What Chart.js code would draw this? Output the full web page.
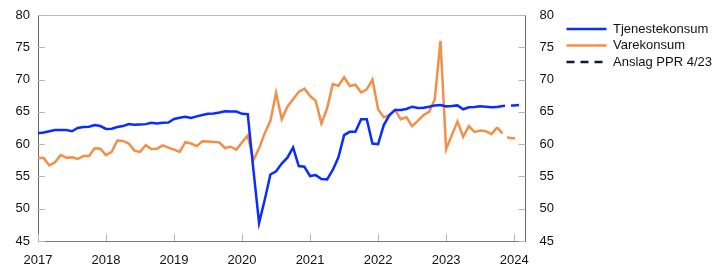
<!DOCTYPE html>
<html>
<head>
<meta charset="utf-8">
<script src="https://cdn.jsdelivr.net/npm/chart.js@4"></script>
<style>
  html, body { margin: 0; padding: 0; background: #fff; }
  #wrap { width: 722px; height: 278px; }
</style>
</head>
<body>
<div id="wrap"><canvas id="konsumChart"></canvas></div>
<script>
// måneder jan 2017 - mar 2024
const months = [];
for (let yr = 2017; yr <= 2024; yr++) {
  for (let mo = 1; mo <= 12; mo++) {
    if (yr === 2024 && mo > 3) break;
    months.push(yr + '-' + String(mo).padStart(2, '0'));
  }
}

const tjenestekonsum = [
  61.7, 61.8, 62.0, 62.2, 62.2, 62.2, 62.0, 62.5, 62.65, 62.7, 62.95, 62.8,
  62.35, 62.4, 62.65, 62.8, 63.1, 63.0, 63.05, 63.1, 63.3, 63.2, 63.3, 63.35,
  63.9, 64.1, 64.25, 64.05, 64.3, 64.5, 64.7, 64.75, 64.9, 65.1, 65.05, 65.05,
  64.7, 64.65, 56.0, 47.8, 51.4, 55.3, 55.8, 57.0, 57.9, 59.5, 56.6, 56.5,
  55.05, 55.2, 54.6, 54.55, 56.0, 57.95, 61.4, 61.9, 61.9, 63.85, 63.85, 60.1,
  60.0, 62.95, 64.5, 65.3, 65.3, 65.45, 65.8, 65.6, 65.65, 65.8, 66.0, 66.05,
  65.85, 65.9, 66.0, 65.4, 65.7, 65.75, 65.85, 65.8, 65.7, 65.75
];

const varekonsum = [
  57.9, 57.85, 56.7, 57.2, 58.3, 57.9, 57.95, 57.7, 58.15, 58.15, 59.35, 59.3,
  58.3, 58.8, 60.55, 60.5, 60.1, 59.0, 58.8, 59.85, 59.25, 59.3, 59.8, 59.45,
  59.15, 58.8, 60.3, 60.1, 59.7, 60.45, 60.4, 60.35, 60.25, 59.4, 59.6, 59.15,
  60.3, 61.35, 57.55, 59.35, 61.7, 63.6, 67.95, 63.85, 65.8, 66.95, 68.1, 68.6,
  67.45, 66.7, 63.2, 65.55, 69.3, 69.05, 70.35, 69.0, 69.2, 68.0, 68.5, 70.0,
  65.4, 64.15, 64.5, 65.3, 63.85, 64.15, 62.8, 63.6, 64.5, 65.0, 66.95, 76.0,
  59.2, 61.4, 63.5, 61.15, 62.8, 61.9, 62.1, 62.0, 61.55, 62.6
];

// anslag PPR 4/23, okt 2023 - feb 2024
const anslagMonths = ['2023-10', '2023-11', '2023-12', '2024-01', '2024-02'];
const anslagTjeneste = [65.75, 65.9, 66.0, 66.0, 66.05];
const anslagVare = [62.6, 61.6, 61.0, 60.9, 60.9];

const yTicks = [45, 50, 55, 60, 65, 70, 75, 80];

const BLUE = '#0a2cff';
const ORANGE = '#f28f48';
const NAVY = '#0c1a3c';
const FONT = { family: 'Liberation Sans, Arial, sans-serif', size: 13 };

const toPoints = (labels, vals) => labels.map((l, i) => ({ x: l, y: vals[i] }));

// små tick-streker innover + toppstrek
const innerTicks = {
  id: 'innerTicks',
  beforeDatasetsDraw(chart) {
    const { ctx, chartArea: a, scales } = chart;
    ctx.save();
    ctx.lineWidth = 1;
    ctx.strokeStyle = '#bdbdbd';
    ctx.beginPath();
    ctx.moveTo(a.left, a.top + 0.5);
    ctx.lineTo(a.right, a.top + 0.5);
    ctx.stroke();
    ctx.strokeStyle = '#b5b5b5';
    ctx.beginPath();
    yTicks.forEach(v => {
      const py = Math.round(scales.y.getPixelForValue(v)) + 0.5;
      ctx.moveTo(a.left, py); ctx.lineTo(a.left + 7, py);
      ctx.moveTo(a.right, py); ctx.lineTo(a.right - 7, py);
    });
    months.forEach((m, i) => {
      if (m.endsWith('-01')) {
        const px = Math.round(scales.x.getPixelForValue(i)) + 0.5;
        ctx.moveTo(px, a.bottom); ctx.lineTo(px, a.bottom - 7);
      }
    });
    ctx.stroke();
    ctx.restore();
  }
};

const ctx = document.getElementById('konsumChart').getContext('2d');
new Chart(ctx, {
  type: 'line',
  data: {
    labels: months,
    datasets: [
      { label: 'Tjenestekonsum', data: tjenestekonsum, borderColor: BLUE, backgroundColor: BLUE, borderWidth: 2.5 },
      { label: 'Varekonsum', data: varekonsum, borderColor: ORANGE, backgroundColor: ORANGE, borderWidth: 2.5 },
      { label: 'Anslag PPR 4/23', data: [], borderColor: NAVY, backgroundColor: NAVY, borderWidth: 2.5, borderDash: [8, 6] },
      { label: 'anslagT', data: toPoints(anslagMonths, anslagTjeneste), borderColor: BLUE, borderWidth: 2.5, borderDash: [8, 6] },
      { label: 'anslagV', data: toPoints(anslagMonths, anslagVare), borderColor: ORANGE, borderWidth: 2.5, borderDash: [8, 6] }
    ]
  },
  options: {
    responsive: true,
    maintainAspectRatio: false,
    animation: false,
    layout: { padding: { top: 15, right: 0, bottom: 0, left: 0 } },
    elements: { point: { radius: 0 }, line: { tension: 0 } },
    plugins: {
      tooltip: { enabled: false },
      legend: {
        position: 'right',
        align: 'start',
        fullSize: false,
        maxWidth: 220,
        title: { display: true, text: '', font: { size: 1 }, padding: { top: 1.4, bottom: 1.4 } },
        labels: {
          usePointStyle: true,
          pointStyle: 'line',
          pointStyleWidth: 40,
          boxWidth: 40,
          padding: 3.5,
          color: '#111',
          font: FONT,
          generateLabels: chart => {
            const items = Chart.defaults.plugins.legend.labels.generateLabels(chart);
            items.forEach(it => {
              const ds = chart.data.datasets[it.datasetIndex];
              it.lineDash = ds.borderDash || [];
              it.strokeStyle = ds.borderColor;
              it.lineWidth = 2.5;
            });
            return items;
          },
          filter: item => !item.text.startsWith('anslag')
        }
      }
    },
    scales: {
      x: {
        offset: false,
        grid: { display: false, drawTicks: false },
        border: { color: '#7a7a7a' },
        ticks: {
          autoSkip: false,
          maxRotation: 0,
          padding: 12,
          color: '#111',
          font: FONT,
          callback: function (val) {
            const m = months[val];
            return m.endsWith('-01') ? m.slice(0, 4) : '';
          }
        },
        afterFit: s => { s.height = 37; }
      },
      y: {
        position: 'left',
        min: 45, max: 80,
        grid: { display: false, drawTicks: true, tickLength: 6 },
        border: { color: '#666' },
        afterBuildTicks: s => { s.ticks = yTicks.map(v => ({ value: v })); },
        ticks: { padding: 2, color: '#111', font: FONT },
        afterFit: s => { s.width = 38; }
      },
      y2: {
        position: 'right',
        min: 45, max: 80,
        grid: { display: false, drawTicks: true, tickLength: 12 },
        border: { color: '#666' },
        afterBuildTicks: s => { s.ticks = yTicks.map(v => ({ value: v })); },
        ticks: { padding: 2, color: '#111', font: FONT },
        afterFit: s => { s.width = 37.5; }
      }
    }
  },
  plugins: [innerTicks]
});
</script>
</body>
</html>
